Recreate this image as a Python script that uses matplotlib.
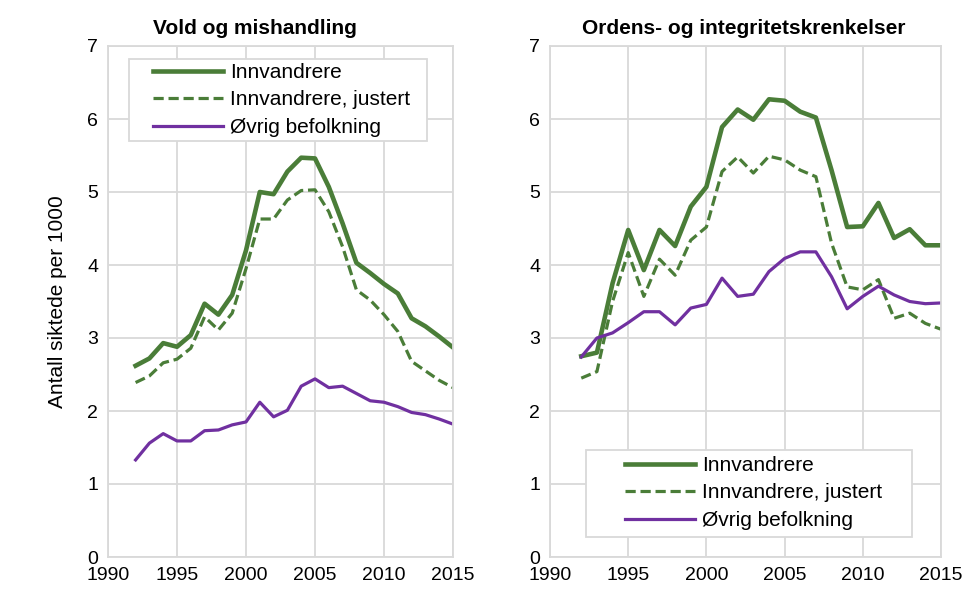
import matplotlib
matplotlib.use("Agg")
import matplotlib.pyplot as plt
from matplotlib.patches import Rectangle
import numpy as np

plt.rcParams['font.family'] = ['Liberation Sans', 'DejaVu Sans']

years = list(range(1992, 2016))

# Vold og mishandling
vold_innv = [2.62, 2.72, 2.93, 2.88, 3.04, 3.47, 3.32, 3.59, 4.20, 5.00, 4.97, 5.28,
             5.47, 5.46, 5.07, 4.57, 4.03, 3.89, 3.74, 3.61, 3.27, 3.16, 3.02, 2.87]
vold_just = [2.39, 2.48, 2.66, 2.71, 2.86, 3.29, 3.11, 3.34, 3.95, 4.63, 4.63, 4.89,
             5.02, 5.03, 4.73, 4.25, 3.66, 3.52, 3.32, 3.09, 2.68, 2.55, 2.42, 2.32]
vold_ovrig = [1.33, 1.56, 1.69, 1.59, 1.59, 1.73, 1.74, 1.81, 1.85, 2.12, 1.92, 2.01,
              2.34, 2.44, 2.32, 2.34, 2.24, 2.14, 2.12, 2.06, 1.98, 1.95, 1.89, 1.82]

# Ordens- og integritetskrenkelser
orden_innv = [2.75, 2.80, 3.75, 4.48, 3.93, 4.48, 4.26, 4.80, 5.07, 5.89, 6.13, 5.99,
              6.27, 6.25, 6.10, 6.02, 5.30, 4.52, 4.53, 4.85, 4.37, 4.49, 4.27, 4.27]
orden_just = [2.45, 2.54, 3.50, 4.17, 3.57, 4.08, 3.86, 4.34, 4.52, 5.28, 5.48, 5.26,
              5.49, 5.44, 5.30, 5.21, 4.30, 3.70, 3.66, 3.80, 3.27, 3.34, 3.20, 3.12]
orden_ovrig = [2.74, 3.00, 3.07, 3.21, 3.36, 3.36, 3.18, 3.41, 3.46, 3.82, 3.57, 3.60,
               3.91, 4.09, 4.18, 4.18, 3.84, 3.40, 3.57, 3.71, 3.59, 3.50, 3.47, 3.48]

labels = ['Innvandrere', 'Innvandrere, justert', 'Øvrig befolkning']
green = '#4a7d38'
purple = '#7030a0'
gridc = '#d9d9d9'

fig = plt.figure(figsize=(9.67, 5.9), dpi=100)
W, H = 967, 590
ax1 = fig.add_axes([108 / W, 1 - 557 / H, (453 - 108) / W, (557 - 46) / H])
ax2 = fig.add_axes([550 / W, 1 - 557 / H, (941 - 550) / W, (557 - 46) / H])


def drawPanel(ax, innv, just, ovrig):
    ax.plot(years, innv, color=green, linewidth=3.3, label=labels[0])
    ax.plot(years, just, color=green, linewidth=2.3, linestyle=(0, (3.2, 1.5)), label=labels[1])
    ax.plot(years, ovrig, color=purple, linewidth=2.3, label=labels[2])
    ax.set_xlim(1990, 2015)
    ax.set_ylim(0, 7)
    ax.set_xticks(np.arange(1990, 2016, 5))
    ax.set_yticks(np.arange(0, 8, 1))
    ax.grid(True, color=gridc, linewidth=1.3)
    ax.set_axisbelow(True)
    for s in ax.spines.values():
        s.set_color(gridc)
        s.set_linewidth(1.3)
    ax.tick_params(length=0, labelsize=14, pad=7, colors='black')


# legend box drawn by hand so its size matches the Excel one
def legendBox(ax, box, handle_x, mid_y):
    x0, y0, x1, y1 = box
    ax.add_patch(Rectangle((x0 / W, 1 - y1 / H), (x1 - x0) / W, (y1 - y0) / H,
                           transform=fig.transFigure, facecolor='white', edgecolor=gridc,
                           linewidth=1.3, zorder=4, clip_on=False))
    ax.legend(loc='center left', bbox_to_anchor=(handle_x / W, 1 - mid_y / H),
              bbox_transform=fig.transFigure, fontsize=15, frameon=False,
              handlelength=3.37, labelspacing=0.4, borderpad=0, borderaxespad=0,
              handletextpad=0.34)


drawPanel(ax1, vold_innv, vold_just, vold_ovrig)
drawPanel(ax2, orden_innv, orden_just, orden_ovrig)
legendBox(ax1, (129, 59, 427, 141), 153, 100)
legendBox(ax2, (586, 450, 912, 537), 625, 493)

ax1.set_ylabel('Antall siktede per 1000', fontsize=15)
ax1.yaxis.set_label_coords(-0.12, 0.5)

fig.text(255 / W, 1 - 28 / H, 'Vold og mishandling', fontsize=15, fontweight='bold', ha='center', va='center')
fig.text(744 / W, 1 - 28 / H, 'Ordens- og integritetskrenkelser', fontsize=15, fontweight='bold', ha='center', va='center')

fig.savefig('out.png', dpi=100)
